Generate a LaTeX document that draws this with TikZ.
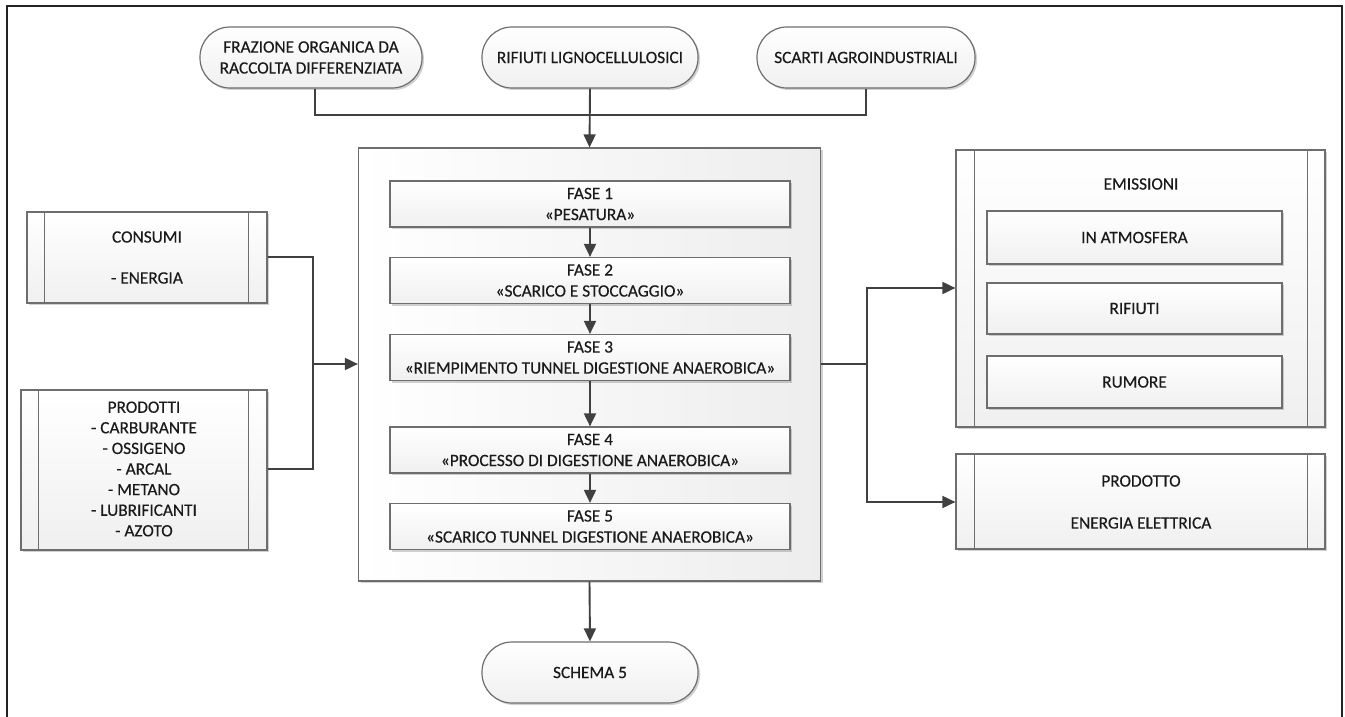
\documentclass[tikz,border=0pt]{standalone}
\usepackage{fontspec}
\setmainfont{Carlito}[FakeBold=0.35]
\usetikzlibrary{arrows.meta,shadows,positioning}
\definecolor{edge}{HTML}{6E6E6E}
\definecolor{wire}{HTML}{404040}
\definecolor{frame}{HTML}{222222}
\definecolor{ink}{HTML}{1A1A1A}
\tikzset{
  txt/.style={text=ink, font=\fontsize{17.3}{21}\selectfont},
  base/.style={draw=edge, line width=1.2pt, top color=white, bottom color=black!6,
    drop shadow={shadow xshift=2pt, shadow yshift=-2pt, opacity=0.18, fill=black},
    align=center, txt, inner sep=0pt},
  pill/.style={base, rounded corners=30pt},
  stepbox/.style={base},
  bigbox/.style={draw=edge, line width=1.2pt, left color=white, right color=black!7,
    drop shadow={shadow xshift=2pt, shadow yshift=-2pt, opacity=0.18, fill=black}},
  sidebox/.style={base},
  wireline/.style={draw=wire, line width=1.9pt},
  arr/.style={wireline, -{Triangle[length=13pt,width=12pt]}},
  lbl/.style={align=center, txt, inner sep=0pt}
}
\begin{document}
\begin{tikzpicture}[x=1pt,y=-1pt]
\useasboundingbox (0,0) rectangle (1345,717);
% outer frame (open at the bottom)
\draw[frame, line width=2.2pt] (7,720) -- (7,6) -- (1342,6) -- (1342,720);

% input pills
\node[pill, minimum width=222pt, minimum height=61pt] (fraz) at (311,57.5) {FRAZIONE ORGANICA DA\\RACCOLTA DIFFERENZIATA};
\node[pill, minimum width=216pt, minimum height=61pt] (ligno) at (590,57.5) {RIFIUTI LIGNOCELLULOSICI};
\node[pill, minimum width=218pt, minimum height=61pt] (scarti) at (866,57.5) {SCARTI AGROINDUSTRIALI};

% central process box
\node[bigbox, minimum width=462pt, minimum height=433pt] (proc) at (589.5,364.5) {};
\node[stepbox, minimum width=400pt, minimum height=46pt] (f1) at (590,204) {FASE 1\\«PESATURA»};
\node[stepbox, minimum width=400pt, minimum height=46pt] (f2) at (590,280.5) {FASE 2\\«SCARICO E STOCCAGGIO»};
\node[stepbox, minimum width=400pt, minimum height=46pt] (f3) at (590,357.5) {FASE 3\\«RIEMPIMENTO TUNNEL DIGESTIONE ANAEROBICA»};
\node[stepbox, minimum width=400pt, minimum height=46pt] (f4) at (590,450) {FASE 4\\«PROCESSO DI DIGESTIONE ANAEROBICA»};
\node[stepbox, minimum width=400pt, minimum height=46pt] (f5) at (590,526.5) {FASE 5\\«SCARICO TUNNEL DIGESTIONE ANAEROBICA»};

% left inputs
\node[sidebox, minimum width=240pt, minimum height=91pt] (cons) at (147,257.5) {};
\draw[edge, line width=1.2pt] ([xshift=18pt]cons.north west) -- ([xshift=18pt]cons.south west)
  ([xshift=-19pt]cons.north east) -- ([xshift=-19pt]cons.south east);
\node[lbl] (consT) at (147,237) {CONSUMI};
\node[lbl] (consE) at (147,278) {- ENERGIA};

\node[sidebox, minimum width=246pt, minimum height=160pt] (prod) at (144,470) {};
\draw[edge, line width=1.2pt] ([xshift=18pt]prod.north west) -- ([xshift=18pt]prod.south west)
  ([xshift=-19pt]prod.north east) -- ([xshift=-19pt]prod.south east);
\node[lbl, font=\fontsize{17.3}{20.6}\selectfont] (prodT) at (144,469) {PRODOTTI\\- CARBURANTE\\- OSSIGENO\\- ARCAL\\- METANO\\- LUBRIFICANTI\\- AZOTO};

% right outputs
\node[sidebox, minimum width=369pt, minimum height=277pt] (emis) at (1140.5,288.5) {};
\draw[edge, line width=1.2pt] ([xshift=19pt]emis.north west) -- ([xshift=19pt]emis.south west)
  ([xshift=-18pt]emis.north east) -- ([xshift=-18pt]emis.south east);
\node[lbl] (emisT) at (1141,184) {EMISSIONI};
\node[stepbox, minimum width=295pt, minimum height=53pt] (atm) at (1134.5,237.5) {IN ATMOSFERA};
\node[stepbox, minimum width=295pt, minimum height=51pt] (rif) at (1134.5,308.5) {RIFIUTI};
\node[stepbox, minimum width=295pt, minimum height=52pt] (rum) at (1134.5,382) {RUMORE};

\node[sidebox, minimum width=369pt, minimum height=95pt] (eout) at (1140.5,501.5) {};
\draw[edge, line width=1.2pt] ([xshift=19pt]eout.north west) -- ([xshift=19pt]eout.south west)
  ([xshift=-18pt]eout.north east) -- ([xshift=-18pt]eout.south east);
\node[lbl] (eoutT) at (1141,481) {PRODOTTO};
\node[lbl] (eoutE) at (1141,523) {ENERGIA ELETTRICA};

% end pill
\node[pill, minimum width=216pt, minimum height=61pt] (schema) at (590,672.5) {SCHEMA 5};

% connectors: inputs to process
\coordinate (topjoin) at (590,115);
\draw[wireline] (fraz.south -| 315,0) |- (topjoin) -| (scarti.south);
\draw[arr] (ligno.south) -- (proc.north);

\coordinate (leftjoin) at (313,364);
\draw[wireline] (cons.east |- 0,257) -| (leftjoin);
\draw[wireline] (prod.east |- 0,469) -| (leftjoin);
\draw[arr] (leftjoin) -- (proc.west |- leftjoin);

% phase sequence
\draw[arr] (f1) -- (f2);
\draw[arr] (f2) -- (f3);
\draw[arr] (f3) -- (f4);
\draw[arr] (f4) -- (f5);

% outputs
\coordinate (rightjoin) at (867,364);
\draw[wireline] (proc.east |- rightjoin) -- (rightjoin);
\draw[arr] (rightjoin) |- (emis.west |- 0,288);
\draw[arr] (rightjoin) |- (eout.west |- 0,502);
\draw[arr] (proc.south) -- (schema.north);
\end{tikzpicture}
\end{document}
